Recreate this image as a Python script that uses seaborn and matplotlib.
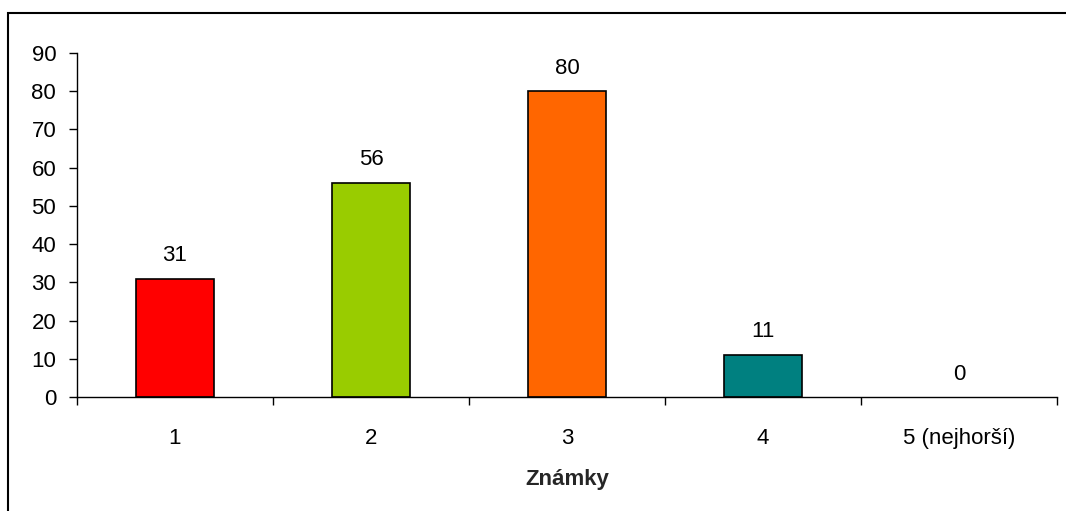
import matplotlib.pyplot as plt
import matplotlib.patches as mpatches
import seaborn as sns
import numpy as np

# Data
grades = ['1', '2', '3', '4', '5 (nejhorší)']
counts = [31, 56, 80, 11, 0]
bar_colors = ['#FF0000', '#99CC00', '#FF6600', '#008080', '#808080']

sns.set_theme(style="white")
plt.rcParams['font.family'] = ['Liberation Sans', 'DejaVu Sans']

fig = plt.figure(figsize=(10.66, 5.11), dpi=100)
ax = fig.add_axes([77 / 1066, 1 - 397 / 511, 980 / 1066, (397 - 53) / 511])

sns.barplot(x=grades, y=counts, hue=grades, palette=bar_colors, legend=False,
            width=0.4, edgecolor='black', linewidth=1.2, saturation=1, ax=ax)

# empty bars get no outline
for p in ax.patches:
    if p.get_height() == 0:
        p.set_linewidth(0)

for cont in ax.containers:
    ax.bar_label(cont, padding=9, fontsize=16, color='black')

ax.set_ylim(0, 90)
ax.set_xlim(-0.5, len(grades) - 0.5)
ax.set_yticks(np.arange(0, 91, 10))
ax.set_xlabel("Známky", fontsize=16, fontweight='bold', labelpad=15)
ax.set_ylabel("")

for side in ['top', 'right']:
    ax.spines[side].set_visible(False)
for side in ['left', 'bottom']:
    ax.spines[side].set_color('black')
    ax.spines[side].set_linewidth(1.0)

ax.tick_params(axis='y', which='major', left=True, length=6, width=1, color='black',
               labelsize=16, pad=9, labelcolor='black')
ax.tick_params(axis='x', which='major', bottom=False, length=0, labelsize=16, pad=22,
               labelcolor='black')
ax.set_xticks(np.arange(-0.5, len(grades)), minor=True)
ax.tick_params(axis='x', which='minor', bottom=True, length=6, width=1, color='black')

# chart area frame
fig.patches.append(mpatches.Rectangle((8 / 1066, -0.2), 1.2, 0.2 + (511 - 13) / 511,
                                      transform=fig.transFigure, fill=False,
                                      edgecolor='black', linewidth=1.5))

fig.savefig("out.png", dpi=100)
